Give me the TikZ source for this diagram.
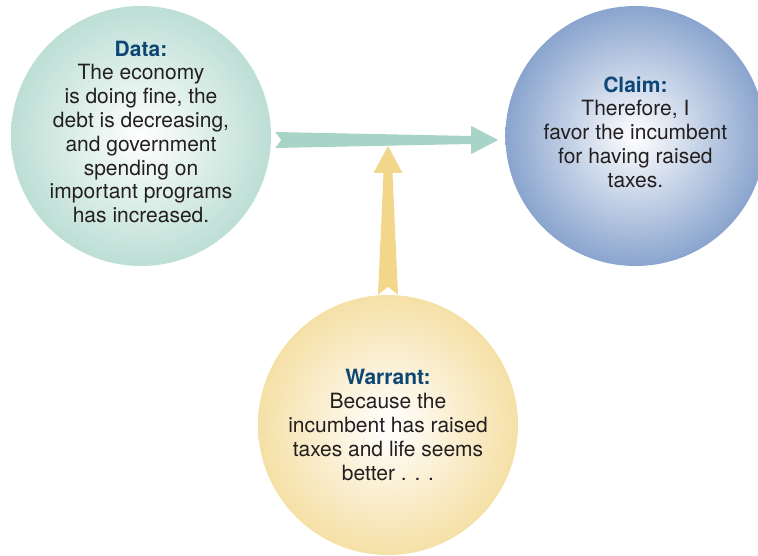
\documentclass[tikz,border=0pt]{standalone}
\usepackage{fontspec}
\setmainfont{TeX Gyre Heros}
\usepackage{xcolor}
\usepackage{tikz}
\usetikzlibrary{positioning,calc}

\definecolor{dataTeal}{HTML}{A7D4C7}
\definecolor{claimBlue}{HTML}{6487BE}
\definecolor{warrantGold}{HTML}{F2D68A}
\definecolor{headBlue}{HTML}{0E4775}
\definecolor{bodyInk}{HTML}{231F20}

\pgfdeclareradialshading{datashade}{\pgfpoint{0bp}{0bp}}{color(0bp)=(white); color(33bp)=(dataTeal); color(50bp)=(dataTeal)}
\pgfdeclareradialshading{claimshade}{\pgfpoint{0bp}{0bp}}{color(0bp)=(white); color(33bp)=(claimBlue); color(50bp)=(claimBlue)}
\pgfdeclareradialshading{warrantshade}{\pgfpoint{0bp}{0bp}}{color(0bp)=(white); color(33bp)=(warrantGold); color(50bp)=(warrantGold)}

\newcommand{\ballhead}[1]{{\bfseries\color{headBlue}#1}}

\begin{document}
\begin{tikzpicture}[
    x=1pt, y=1pt,
    ball/.style={circle, minimum size=260pt, inner sep=0pt},
    databall/.style={ball, shading=datashade},
    claimball/.style={ball, shading=claimshade},
    warrantball/.style={ball, shading=warrantshade},
    balltext/.style={align=center, text=bodyInk, inner sep=0pt,
                     font=\fontsize{21}{23.8}\selectfont}
]
\useasboundingbox (0,0) rectangle (758,555);

\node[databall] (data) at (141,419) {};
\node[claimball, right=234pt of data] (claim) {};
\node[warrantball] (warrant) at (388,130) {};

\node[balltext, yshift=4pt] (datatext) at (data.center) {\ballhead{Data:}\\The economy\\is doing fine, the\\debt is decreasing,\\and government\\spending on\\important programs\\has increased.};
\node[balltext, yshift=4pt] (claimtext) at (claim.center) {\ballhead{Claim:}\\Therefore, I\\favor the incumbent\\for having raised\\taxes.};
\node[balltext] (warranttext) at (warrant.center) {\ballhead{Warrant:}\\Because the\\incumbent has raised\\taxes and life seems\\better . . .};

% data -> claim
\coordinate (dstart) at ($(data.east)+(4,-4)$);
\coordinate (dend) at ($(claim.west)+(-7,-4)$);
\fill[dataTeal] ($(dstart)+(0,8)$) -- ($(dstart)+(6,0)$) -- ($(dstart)+(0,-8)$)
    -- ($(dend)+(-27,-4)$) -- ($(dend)+(-27,-14)$) -- (dend)
    -- ($(dend)+(-27,14)$) -- ($(dend)+(-27,4)$) -- cycle;

% warrant -> data/claim arrow
\coordinate (wstart) at (warrant.north);
\coordinate (wend) at ($(warrant.north |- dstart)+(0,-6)$);
\fill[warrantGold] ($(wstart)+(-10,0)$) -- ($(wstart)+(0,8)$) -- ($(wstart)+(10,0)$)
    -- ($(wend)+(4.5,-27)$) -- ($(wend)+(14.5,-27)$) -- (wend)
    -- ($(wend)+(-14.5,-27)$) -- ($(wend)+(-4.5,-27)$) -- cycle;
\end{tikzpicture}
\end{document}
